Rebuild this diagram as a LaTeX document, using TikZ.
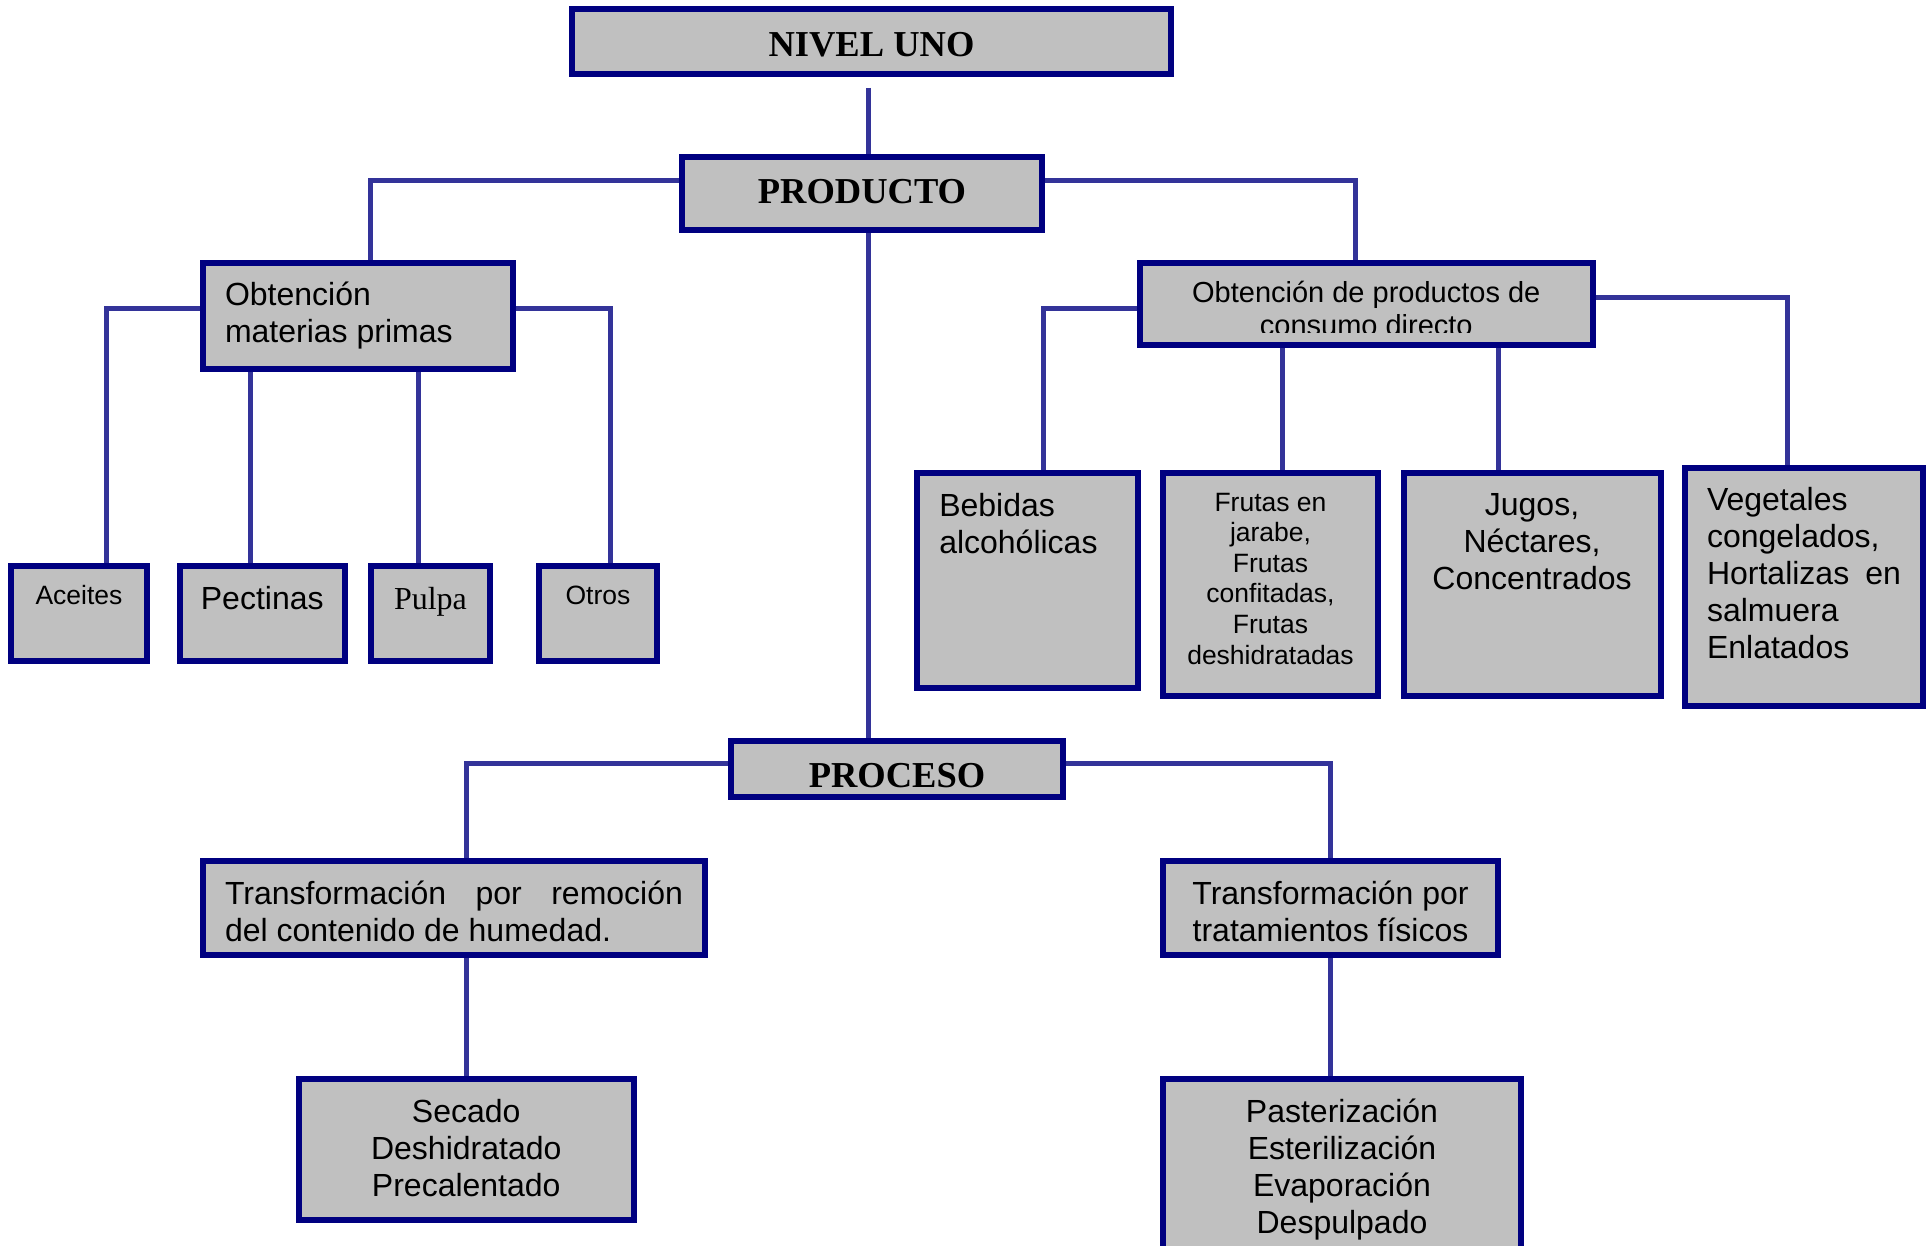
\documentclass[tikz,border=0pt]{standalone}
\usepackage{fontspec}
\setmainfont{Liberation Sans}
\newfontfamily\tnr{Liberation Serif}
\usetikzlibrary{backgrounds}
\definecolor{bnavy}{HTML}{000080}
\definecolor{bgray}{HTML}{C0C0C0}
\definecolor{lblue}{HTML}{333399}
% #1 width, #2 height, #3 first-baseline offset, #4 alignment, #5 text
\newcommand\tb[5]{\parbox[c][#2pt][t]{#1pt}{#4\rule{0pt}{#3pt}#5}}
\tikzset{
  box/.style={draw=bnavy, line width=6pt, fill=bgray, inner sep=0pt, outer sep=0pt, rectangle},
  conn/.style={draw=lblue, line width=5pt},
  fmain/.style={font=\fontsize{32}{37}\selectfont},
  fsmall/.style={font=\fontsize{26.5}{30.6}\selectfont},
  fcons/.style={font=\fontsize{29}{33}\selectfont},
  ftitle/.style={font=\tnr\bfseries\fontsize{36.5}{40}\selectfont},
  fserif/.style={font=\tnr\fontsize{32}{37}\selectfont},
}
\begin{document}
\begin{tikzpicture}[x=1pt,y=-1pt]
\useasboundingbox (0,0) rectangle (1930,1246);

% top levels
\node[box, ftitle, minimum width=599pt, minimum height=65pt] (nivel) at (871.5,41.5)
  {\tb{555}{65}{47.5}{\centering}{NIVEL UNO}};
\node[box, ftitle, minimum width=360pt, minimum height=73pt] (prod) at (862,193.5)
  {\tb{330}{73}{47}{\centering}{PRODUCTO}};
\node[box, ftitle, minimum width=332pt, minimum height=56pt] (proc) at (897,769)
  {\tb{300}{56}{46}{\centering}{PROCESO}};

% materias primas branch
\node[box, fmain, minimum width=310pt, minimum height=106pt] (mat) at (358,316)
  {\tb{266}{106}{43}{\raggedright}{Obtención\\materias primas}};
\node[box, fsmall, minimum width=136pt, minimum height=95pt] (acei) at (79,613.5)
  {\tb{120}{95}{38}{\centering}{Aceites}};
\node[box, fmain, minimum width=165.5pt, minimum height=95pt] (pect) at (262.25,613.5)
  {\tb{150}{95}{43}{\centering}{Pectinas}};
\node[box, fserif, minimum width=119pt, minimum height=95pt] (pulp) at (430.5,613.5)
  {\tb{105}{95}{43}{\centering}{Pulpa}};
\node[box, fsmall, minimum width=118pt, minimum height=95pt] (otro) at (598,613.5)
  {\tb{100}{95}{38}{\centering}{Otros}};

% consumo directo branch
\node[box, minimum width=453.5pt, minimum height=82pt,
  path picture={
    \clip (path picture bounding box.north west) rectangle ([yshift=12pt]path picture bounding box.south east);
    \node[inner sep=0pt, anchor=north, fcons] (constext) at (path picture bounding box.north)
      {\tb{430}{82}{40}{\centering}{Obtención de productos de\\consumo directo}};
  }] (cons) at (1366.25,304) {};
\node[box, fmain, minimum width=220.5pt, minimum height=215pt] (bebi) at (1027.25,580.5)
  {\tb{176}{215}{43.5}{\raggedright}{Bebidas\\alcohólicas}};
\node[box, fsmall, minimum width=215pt, minimum height=223pt] (frut) at (1270.5,584.5)
  {\tb{195}{223}{38}{\centering}{Frutas en\\jarabe,\\Frutas\\confitadas,\\Frutas\\deshidratadas}};
\node[box, fmain, minimum width=257pt, minimum height=223pt] (jugo) at (1532,584.5)
  {\tb{230}{223}{42.5}{\centering}{Jugos,\\Néctares,\\Concentrados}};
\node[box, fmain, minimum width=238pt, minimum height=238pt] (vege) at (1804,587)
  {\tb{194}{238}{42.5}{\raggedright}{Vegetales\\congelados,\\Hortalizas\hfill en\\salmuera\\Enlatados}};

% proceso branch
\node[box, fmain, minimum width=502pt, minimum height=94pt] (trem) at (454,908)
  {\tb{458}{94}{43}{\raggedright}{Transformación\hfill por\hfill remoción\\del contenido de humedad.}};
\node[box, fmain, minimum width=334.5pt, minimum height=141pt] (seca) at (466.25,1149.5)
  {\tb{300}{141}{43.5}{\centering}{Secado\\Deshidratado\\Precalentado}};
\node[box, fmain, minimum width=335pt, minimum height=94pt] (ttra) at (1330.5,908)
  {\tb{310}{94}{43}{\centering}{Transformación por\\tratamientos físicos}};
\node[box, fmain, minimum width=358pt, minimum height=181pt] (past) at (1342,1169.5)
  {\tb{320}{181}{43.5}{\centering}{Pasterización\\Esterilización\\Evaporación\\Despulpado}};

% connector guide coordinates
\coordinate (n1) at (868,88);
\coordinate (kPL) at (370,181);
\coordinate (kPR) at (1355,181);
\coordinate (kML) at (106,309);
\coordinate (kMR) at (610,309);
\coordinate (kM1) at (250,0);
\coordinate (kM2) at (418.5,0);
\coordinate (kCL) at (1043,309);
\coordinate (kC1) at (1282,0);
\coordinate (kC2) at (1498,0);
\coordinate (kCR) at (1787,298);
\coordinate (kRL) at (466,763);
\coordinate (kRR) at (1330,763);

\begin{scope}[on background layer]
  \fill[white] (0,0) rectangle (1930,1246);
  \draw[conn] (n1) -- (prod.north -| n1);
  \draw[conn] (prod.west |- kPL) -| (mat.north -| kPL);
  \draw[conn] (prod.east |- kPR) -| (cons.north -| kPR);
  \draw[conn] (prod.south -| n1) -- (proc.north -| n1);
  \draw[conn] (mat.west |- kML) -| (acei.north -| kML);
  \draw[conn] (mat.east |- kMR) -| (otro.north -| kMR);
  \draw[conn] (mat.south -| kM1) -- (pect.north -| kM1);
  \draw[conn] (mat.south -| kM2) -- (pulp.north -| kM2);
  \draw[conn] (cons.west |- kCL) -| (bebi.north -| kCL);
  \draw[conn] (cons.south -| kC1) -- (frut.north -| kC1);
  \draw[conn] (cons.south -| kC2) -- (jugo.north -| kC2);
  \draw[conn] (cons.east |- kCR) -| (vege.north -| kCR);
  \draw[conn] (proc.west |- kRL) -| (trem.north -| kRL);
  \draw[conn] (proc.east |- kRR) -| (ttra.north -| kRR);
  \draw[conn] (trem.south -| kRL) -- (seca.north -| kRL);
  \draw[conn] (ttra.south -| kRR) -- (past.north -| kRR);
\end{scope}
\end{tikzpicture}
\end{document}
